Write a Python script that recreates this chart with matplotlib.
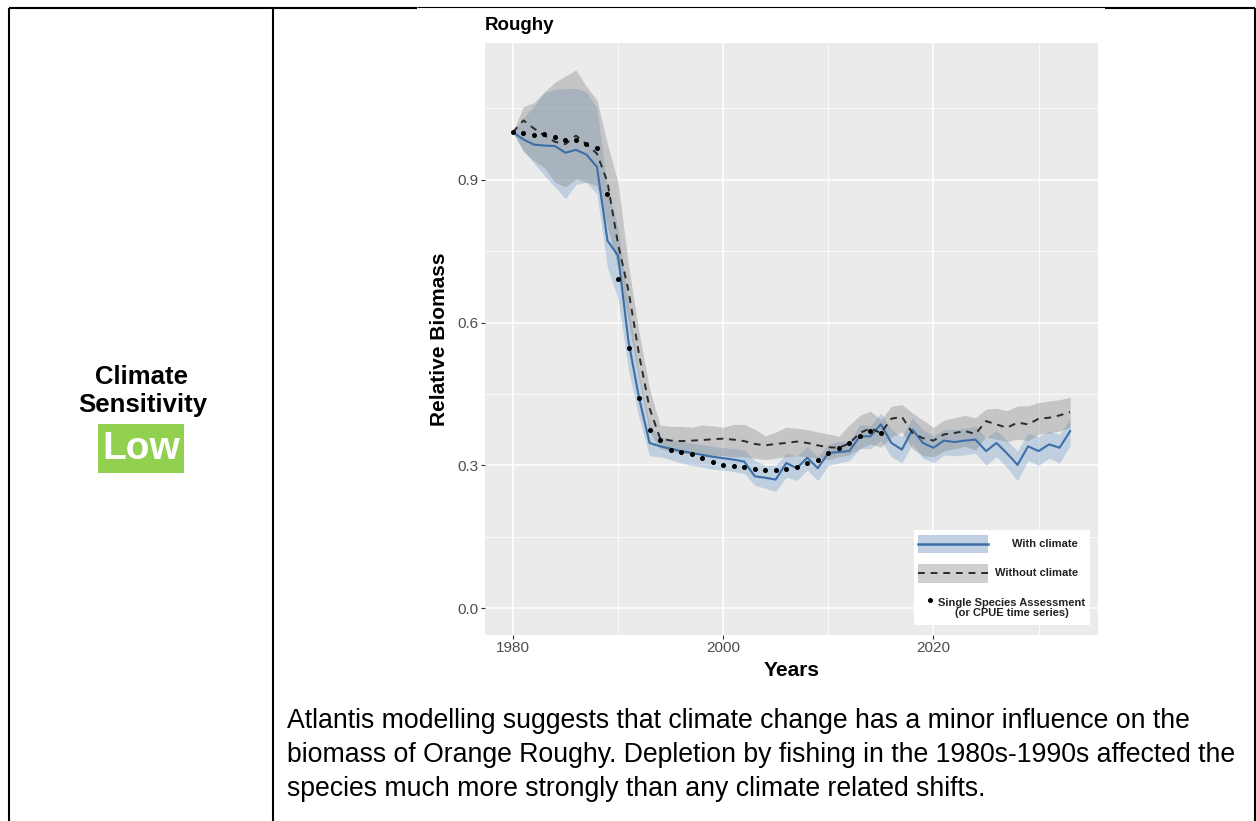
import matplotlib
matplotlib.use("Agg")
import matplotlib.pyplot as plt
from matplotlib.lines import Line2D
from matplotlib.patches import Rectangle
import numpy as np

plt.rcParams['font.family'] = ['Liberation Sans', 'DejaVu Sans']

# ===== Date =====
years = np.arange(1980, 2034)

with_climate = [1.000, 0.985, 0.974, 0.972, 0.971, 0.957, 0.963, 0.953, 0.927, 0.772,
                0.741, 0.560, 0.442, 0.347, 0.340, 0.335, 0.330, 0.326, 0.322, 0.318,
                0.315, 0.312, 0.308, 0.277, 0.274, 0.270, 0.305, 0.294, 0.316, 0.294,
                0.326, 0.328, 0.330, 0.361, 0.361, 0.386, 0.347, 0.333, 0.375, 0.347,
                0.337, 0.352, 0.349, 0.352, 0.354, 0.330, 0.347, 0.325, 0.301, 0.340,
                0.330, 0.344, 0.337, 0.372]
with_lo = [1.000, 0.962, 0.935, 0.909, 0.885, 0.860, 0.890, 0.895, 0.870, 0.715,
           0.650, 0.500, 0.400, 0.320, 0.318, 0.312, 0.305, 0.300, 0.296, 0.292,
           0.290, 0.287, 0.283, 0.258, 0.252, 0.245, 0.275, 0.268, 0.290, 0.268,
           0.300, 0.305, 0.310, 0.335, 0.335, 0.352, 0.318, 0.305, 0.345, 0.315,
           0.305, 0.322, 0.320, 0.322, 0.325, 0.300, 0.318, 0.295, 0.268, 0.310,
           0.300, 0.315, 0.305, 0.342]
with_hi = [1.000, 1.030, 1.055, 1.083, 1.090, 1.092, 1.092, 1.085, 1.050, 0.880,
           0.800, 0.640, 0.490, 0.385, 0.360, 0.355, 0.350, 0.347, 0.343, 0.340,
           0.337, 0.335, 0.332, 0.310, 0.300, 0.300, 0.325, 0.320, 0.340, 0.318,
           0.345, 0.350, 0.350, 0.385, 0.383, 0.410, 0.375, 0.360, 0.400, 0.375,
           0.362, 0.375, 0.375, 0.378, 0.382, 0.358, 0.373, 0.352, 0.330, 0.368,
           0.360, 0.372, 0.365, 0.398]

without_climate = [1.000, 1.025, 1.008, 0.993, 0.980, 0.975, 0.993, 0.975, 0.955, 0.895,
                   0.765, 0.667, 0.533, 0.420, 0.357, 0.352, 0.351, 0.352, 0.353, 0.355,
                   0.356, 0.354, 0.351, 0.345, 0.342, 0.345, 0.347, 0.350, 0.347, 0.342,
                   0.338, 0.337, 0.346, 0.368, 0.378, 0.368, 0.398, 0.402, 0.368, 0.357,
                   0.352, 0.365, 0.368, 0.372, 0.366, 0.393, 0.386, 0.379, 0.390, 0.386,
                   0.398, 0.400, 0.405, 0.412]
without_lo = [1.000, 0.960, 0.940, 0.925, 0.895, 0.885, 0.902, 0.895, 0.888, 0.800,
              0.715, 0.600, 0.480, 0.370, 0.335, 0.330, 0.325, 0.325, 0.322, 0.320,
              0.320, 0.318, 0.318, 0.315, 0.312, 0.315, 0.318, 0.320, 0.318, 0.315,
              0.312, 0.318, 0.322, 0.335, 0.345, 0.338, 0.360, 0.370, 0.335, 0.320,
              0.318, 0.330, 0.335, 0.340, 0.332, 0.360, 0.355, 0.350, 0.355, 0.352,
              0.365, 0.368, 0.372, 0.380]
without_hi = [1.000, 1.054, 1.062, 1.085, 1.105, 1.118, 1.131, 1.096, 1.068, 0.975,
              0.895, 0.720, 0.580, 0.460, 0.385, 0.382, 0.382, 0.380, 0.385, 0.383,
              0.380, 0.386, 0.386, 0.376, 0.362, 0.370, 0.380, 0.378, 0.375, 0.370,
              0.366, 0.361, 0.385, 0.405, 0.414, 0.396, 0.424, 0.428, 0.410, 0.395,
              0.380, 0.395, 0.400, 0.405, 0.400, 0.418, 0.420, 0.415, 0.425, 0.425,
              0.432, 0.435, 0.438, 0.443]

assess_years = np.arange(1980, 2016)
assessment = [1.000, 0.999, 0.995, 0.997, 0.990, 0.983, 0.983, 0.976, 0.966, 0.871,
              0.692, 0.547, 0.442, 0.374, 0.353, 0.332, 0.329, 0.323, 0.316, 0.308,
              0.301, 0.298, 0.297, 0.292, 0.290, 0.290, 0.292, 0.297, 0.304, 0.312,
              0.325, 0.337, 0.347, 0.361, 0.372, 0.367]

x_ticks = [1980, 2000, 2020]
y_ticks = [0.0, 0.3, 0.6, 0.9]

body_lines = [
    "Atlantis modelling suggests that climate change has a minor influence on the",
    "biomass of Orange Roughy. Depletion by fishing in the 1980s-1990s affected the",
    "species much more strongly than any climate related shifts.",
]

# ===== Figura =====
W, H = 1256, 821
fig = plt.figure(figsize=(W / 100, H / 100), dpi=100)

def fx(px):
    return px / W

def fy(py):
    return 1 - py / H

ax = fig.add_axes([fx(485), fy(635), fx(1098) - fx(485), fy(43) - fy(635)])
ax.set_facecolor('#ebebeb')
for s in ax.spines.values():
    s.set_visible(False)

# limite ca in ggplot (expansiune 5%)
x0, x1 = years.min(), years.max()
xpad = 0.05 * (x1 - x0)
ax.set_xlim(x0 - xpad, x1 + xpad)
ytop = max(max(without_hi), max(with_hi))
ypad = 0.05 * ytop
ax.set_ylim(-ypad, ytop + ypad)

ax.set_xticks(x_ticks)
ax.set_xticks([1990, 2010, 2030], minor=True)
ax.set_yticks(y_ticks)
ax.set_yticks([0.15, 0.45, 0.75, 1.05], minor=True)
ax.set_yticklabels([f"{v:.1f}" for v in y_ticks])
ax.grid(which='major', color='white', linewidth=1.1)
ax.grid(which='minor', color='white', linewidth=0.55)
ax.set_axisbelow(True)
ax.tick_params(which='major', length=3, width=0.8, color='#333333',
               labelcolor='#4d4d4d', labelsize=11, pad=1.5)
ax.tick_params(which='minor', length=0)

# benzi
ax.fill_between(years, with_lo, with_hi, color='#5b8fc7', alpha=0.3, linewidth=0)
ax.fill_between(years, without_lo, without_hi, color='#7f7f7f', alpha=0.35, linewidth=0)

ax.plot(years, with_climate, color='#3b6fa6', linewidth=1.5)
ax.plot(years, without_climate, color='#2b2b2b', linewidth=1.4, dashes=(3.5, 3))
ax.plot(assess_years, assessment, 'o', color='black', markersize=2.6)

ax.set_xlabel("Years", fontsize=15, fontweight='bold', labelpad=4)
ax.set_ylabel("Relative Biomass", fontsize=15, fontweight='bold', labelpad=6)

fig.text(fx(485), fy(30), "Roughy", fontsize=13.5, fontweight='bold',
         ha='left', va='baseline')

# ===== Legenda =====
fig.add_artist(Rectangle((fx(914), fy(625)), fx(1090) - fx(914), fy(530) - fy(625),
                         transform=fig.transFigure, facecolor='white', edgecolor='none'))
fig.add_artist(Rectangle((fx(918), fy(553)), fx(988) - fx(918), fy(535) - fy(553),
                         transform=fig.transFigure, facecolor='#c0d0e2', edgecolor='none'))
fig.add_artist(Line2D([fx(918), fx(988)], [fy(544), fy(544)], transform=fig.transFigure,
                      color='#3b6fa6', linewidth=1.8))
fig.add_artist(Rectangle((fx(918), fy(583)), fx(988) - fx(918), fy(564) - fy(583),
                         transform=fig.transFigure, facecolor='#cfcfcf', edgecolor='none'))
fig.add_artist(Line2D([fx(918), fx(988)], [fy(573), fy(573)], transform=fig.transFigure,
                      color='#2b2b2b', linewidth=1.4, dashes=(3.5, 3)))
fig.add_artist(Line2D([fx(930)], [fy(600)], transform=fig.transFigure, marker='o',
                      color='black', markersize=2.6, linestyle='none'))
fig.text(fx(1078), fy(544), "With climate", fontsize=8, fontweight='bold',
         color='#222222', ha='right', va='center')
fig.text(fx(1078), fy(573), "Without climate", fontsize=8, fontweight='bold',
         color='#222222', ha='right', va='center')
fig.text(fx(1012), fy(608), "Single Species Assessment\n(or CPUE time series)",
         fontsize=8, fontweight='bold', color='#222222', ha='center', va='center',
         multialignment='center', linespacing=1.0)

# ===== Tabel =====
lw = 1.5
def hline(xa, xb, y, w=lw):
    fig.add_artist(Line2D([fx(xa), fx(xb)], [fy(y), fy(y)], transform=fig.transFigure,
                          color='black', linewidth=w, solid_capstyle='butt'))

def vline(x, ya, yb, w=lw):
    fig.add_artist(Line2D([fx(x), fx(x)], [fy(ya), fy(yb)], transform=fig.transFigure,
                          color='black', linewidth=w, solid_capstyle='butt'))

hline(9, 417, 8)
hline(417, 1105, 7, w=0.8)
hline(1105, 1255, 8)
vline(9, 8, 821)
vline(273, 8, 821)
vline(1255, 8, 821)

fig.text(fx(141), fy(377), "Climate", fontsize=18.5, fontweight='bold', ha='center', va='center')
fig.text(fx(143), fy(405), "Sensitivity", fontsize=18.5, fontweight='bold', ha='center', va='center')
fig.add_artist(Rectangle((fx(98), fy(473)), fx(184) - fx(98), fy(424) - fy(473),
                         transform=fig.transFigure, facecolor='#92d050', edgecolor='none'))
fig.text(fx(141), fy(449), "Low", fontsize=28, fontweight='bold', color='white',
         ha='center', va='center')

for i, line in enumerate(body_lines):
    fig.text(fx(287), fy(728 + 34 * i), line, fontsize=19.2, ha='left', va='baseline')

fig.savefig("out.png", dpi=100)
